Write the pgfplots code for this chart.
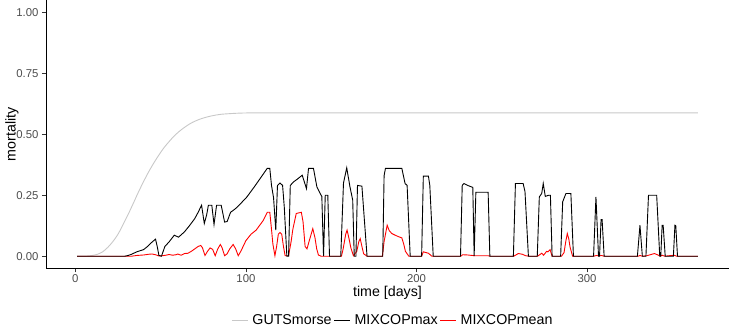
\documentclass[border=0pt]{standalone}
\usepackage{fontspec}
\setmainfont{Liberation Sans}
\usepackage{pgfplots}
\pgfplotsset{compat=1.18}

\definecolor{gutsgray}{RGB}{200,200,200}
\definecolor{ticktext}{RGB}{77,77,77}
\definecolor{tickline}{RGB}{51,51,51}
\definecolor{meanred}{RGB}{255,0,0}

\begin{document}
\begin{tikzpicture}
\begin{axis}[
  scale only axis,
  width=683bp, height=268.4bp,
  xmin=-17.2, xmax=383.2,
  ymin=-0.05, ymax=1.05,
  axis x line=bottom, axis y line=left,
  axis line style={-, black, line width=1bp},
  tick align=outside,
  major tick length=4bp,
  tick style={tickline, line width=0.8bp},
  xtick={0,100,200,300},
  xticklabels={0,100,200,300},
  ytick={0,0.25,0.5,0.75,1},
  yticklabels={0.00,0.25,0.50,0.75,1.00},
  ticklabel style={font=\fontsize{11.4}{13}\selectfont, text=ticktext},
  xticklabel style={inner sep=2bp},
  xlabel={time [days]},
  ylabel={mortality},
  label style={font=\fontsize{14.3}{16}\selectfont},
  x label style={at={(axis description cs:0.5,-0.092)}, anchor=center, inner sep=0pt},
  y label style={at={(axis description cs:-0.0498,0.5)}, anchor=center},
  legend columns=3,
  legend style={at={(axis description cs:0.508,-0.193)}, anchor=center,
    draw=none, fill=none, font=\fontsize{14.3}{16}\selectfont,
    /tikz/every odd column/.append style={column sep=2bp},
    /tikz/every even column/.append style={column sep=0bp}},
  legend image code/.code={\draw[#1, line width=1bp] (0bp,0bp) -- (16bp,0bp);},
]

% GUTS reduced model (stochastic death), smooth survival-based mortality
\addplot[gutsgray, line width=0.9bp, smooth, forget plot] coordinates {
(1,0) (6,0.0005) (10,0.003) (13,0.008) (16,0.018) (19,0.036) (22,0.06)
(25,0.09) (28,0.13) (31,0.172) (34,0.217) (37,0.263) (40,0.306) (43,0.346)
(46,0.382) (49,0.415) (52,0.445) (55,0.47) (58,0.493) (61,0.512) (64,0.528)
(67,0.542) (70,0.553) (74,0.564) (78,0.572) (82,0.578) (86,0.582) (90,0.584)
(95,0.586) (100,0.587) (110,0.5875) (200,0.5875) (365,0.5875)
};

% MIXCOP mean mortality
\addplot[meanred, line width=0.9bp, forget plot] coordinates {
(1,0) (33,0) (36,0.003) (40,0.005) (43,0.008) (45,0.009) (47,0.006) (49,0.001)
(51,0.002) (53,0.004) (55,0.007) (57,0.004) (59,0.006) (60,0.009) (62,0.004)
(64,0.011) (66,0.012) (68,0.02) (70,0.03) (72,0.04) (73.5,0.044) (74.5,0.035)
(76,0.003) (77.5,0.02) (79,0.034) (80.5,0.028) (82,0.002) (83.5,0.03)
(85,0.048) (86,0.035) (87.5,0.002) (89,0.01) (90.5,0.03) (92.5,0.048)
(94,0.03) (95.5,0.002) (97,0.02) (100,0.064) (103,0.09) (106,0.107)
(110,0.145) (112.5,0.18) (114,0.18) (115,0.11) (115.8,0.05) (117,0.002)
(118,0.04) (119,0.09) (120,0.097) (121,0.09) (122,0.04) (123,0.002)
(125,0.002) (126.5,0.06) (127.5,0.11) (129.5,0.175) (132.5,0.18) (133.5,0.14)
(134.7,0.04) (135.8,0.03) (137,0.06) (139.2,0.113) (140.5,0.075) (141.5,0.03)
(142.5,0.005) (144,0) (156,0) (157,0.03) (158.5,0.09) (159.3,0.107)
(160.5,0.07) (161.5,0.035) (163,0.002) (165,0.02) (166.2,0.06) (167,0.072)
(168,0.04) (169,0.01) (171,0) (180,0) (181,0.06) (182.8,0.127) (184,0.105)
(185.5,0.093) (187.5,0.086) (189.5,0.08) (191.4,0.075) (192.5,0.05)
(193.5,0.02) (195.5,0) (203,0) (204,0.018) (206,0.014) (207,0.012) (209,0)
(226,0) (227,0.006) (230,0.005) (234,0.002) (242,0.002) (243,0) (257,0)
(259.7,0.011) (262,0.008) (264,0.002) (266,0) (271,0) (273.4,0.012)
(274.5,0.004) (276.3,0.02) (277,0.018) (278.3,0.027) (279.5,0) (285,0)
(286.5,0.015) (287.5,0.06) (288.4,0.093) (289.3,0.07) (290,0.038) (291.5,0)
(304,0) (305.5,0.003) (307,0.001) (308.5,0.003) (310,0) (330,0) (331,0.003)
(332.5,0) (335,0.002) (337,0.006) (339.5,0.011) (341.5,0.005) (343,0)
(344,0.004) (345.5,0) (351,0.004) (352.5,0) (365,0)
};

% MIXCOP maximum mortality
\addplot[black, line width=0.9bp, forget plot] coordinates {
(1,0) (29,0) (31,0.003) (33,0.008) (36,0.018) (40,0.027) (42,0.038) (44,0.052)
(47,0.07) (48,0.04) (49,0.003) (50.5,0) (51.5,0.02) (52.5,0.04) (55,0.059)
(58,0.086) (60.5,0.078) (64,0.10) (67,0.126) (70,0.154) (72,0.18) (74,0.209)
(75.6,0.134) (77,0.17) (78,0.209) (80,0.209) (81.3,0.13) (82.8,0.209)
(85.5,0.209) (87.5,0.14) (89,0.142) (91,0.18) (93,0.19) (94.7,0.2) (96,0.209)
(100.6,0.243) (105,0.285) (110,0.335) (112.5,0.36) (114,0.36) (115,0.29)
(116.2,0.24) (117.5,0.107) (118.5,0.29) (120,0.30) (121.5,0.29) (122.5,0.2)
(124,0) (125,0) (126,0.29) (128,0.305) (130,0.315) (133,0.332) (135.5,0.277)
(136.7,0.36) (139.6,0.36) (141.6,0.284) (143.5,0.257) (144.5,0.245) (145.5,0)
(146.5,0.25) (148,0.25) (149,0) (155.6,0) (157.2,0.30) (159.1,0.362)
(161,0.284) (162.6,0.23) (163.5,0) (164.5,0) (165.4,0.29) (168,0.287) (171,0)
(180.2,0) (181,0.33) (181.8,0.36) (191.4,0.36) (193.3,0.298) (194.5,0.29)
(196.3,0) (203,0) (204,0.328) (207,0.328) (207.8,0.29) (209.8,0) (225.8,0)
(226.8,0.29) (227.8,0.298) (230,0.29) (233,0.282) (233.8,0) (234.8,0.262)
(242,0.262) (243,0) (256.8,0) (258,0.298) (262.5,0.298) (263.6,0.265)
(265.6,0) (270.8,0) (272,0.243) (273.4,0.257) (274.3,0.298) (275.5,0.245)
(277.5,0.25) (278.5,0.25) (279.5,0) (284.5,0) (285.7,0.223) (287.6,0.257)
(290.5,0.257) (292,0) (303.8,0) (305.2,0.243) (306.7,0) (307.3,0) (308.2,0.15)
(308.8,0.15) (310,0) (329.5,0) (331,0.127) (332.4,0) (334.5,0) (336,0.25)
(340.8,0.25) (342.6,0) (343.2,0) (344,0.127) (344.6,0.127) (345.8,0)
(350.6,0) (351.5,0.127) (352,0.125) (353,0) (365,0)
};

\addlegendimage{gutsgray}
\addlegendentry{GUTSmorse}
\addlegendimage{black}
\addlegendentry{MIXCOPmax}
\addlegendimage{meanred}
\addlegendentry{MIXCOPmean}
\end{axis}
\pgfresetboundingbox
\path[use as bounding box] ([xshift=-46bp,yshift=-63.6bp]current axis.south west) rectangle (current axis.north east);
\end{tikzpicture}
\end{document}
